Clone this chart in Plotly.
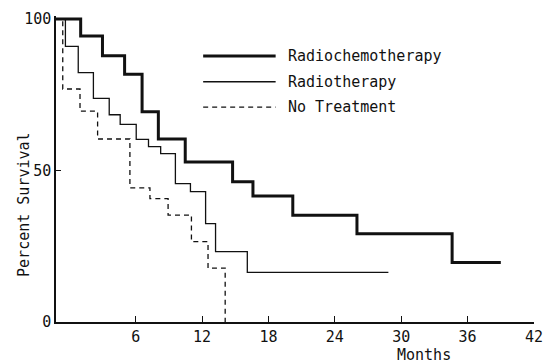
import plotly.graph_objects as go

# ---- data (months, percent survival) ----
chemo_months = [-1.2, 1.03, 3.0, 5.0, 6.58, 8.05, 10.48, 14.76, 16.6, 20.2, 26.0, 34.6, 39.0]
chemo_surv = [100, 94.4, 87.9, 81.8, 69.4, 60.4, 52.8, 46.3, 41.6, 35.2, 29.1, 19.6, 19.6]

radio_months = [-1.2, -0.35, 0.81, 2.18, 3.61, 4.60, 6.05, 7.16, 8.26, 9.59, 10.95, 12.32, 13.22, 16.09, 28.84]
radio_surv = [100, 91.0, 82.3, 73.8, 68.4, 65.2, 60.3, 57.9, 55.6, 45.7, 43.0, 32.5, 23.2, 16.4, 16.4]

none_months = [-1.2, -0.59, 0.97, 2.56, 5.48, 7.29, 8.93, 11.04, 12.54, 14.09]
none_surv = [100, 76.9, 69.6, 60.4, 44.3, 40.7, 35.3, 26.5, 17.8, 0]

x_ticks = [6, 12, 18, 24, 30, 36, 42]
y_ticks = [0, 50, 100]
series_names = ["Radiochemotherapy", "Radiotherapy", "No Treatment"]

FONT = "DejaVu Sans Mono"
INK = "#111111"

fig = go.Figure()
fig.add_trace(go.Scatter(x=none_months, y=none_surv, mode="lines", line_shape="hv",
                         line=dict(color=INK, width=1.3, dash="5px,4px"), name=series_names[2]))
fig.add_trace(go.Scatter(x=radio_months, y=radio_surv, mode="lines", line_shape="hv",
                         line=dict(color=INK, width=1.3), name=series_names[1]))
fig.add_trace(go.Scatter(x=chemo_months, y=chemo_surv, mode="lines", line_shape="hv",
                         line=dict(color=INK, width=3), name=series_names[0]))

# manual legend (long sample lines as in the reference)
leg_x0, leg_x1, leg_tx = 12.1, 18.65, 19.6
leg_y = [87.8, 79.3, 70.9]
leg_styles = [dict(width=3, dash="solid"), dict(width=1.3, dash="solid"), dict(width=1.3, dash="5px,4px")]
shapes = []
annotations = []
for name, yy, st in zip(series_names, leg_y, leg_styles):
    shapes.append(dict(type="line", xref="x", yref="y", x0=leg_x0, x1=leg_x1, y0=yy, y1=yy,
                       line=dict(color=INK, width=st["width"], dash=st["dash"])))
    annotations.append(dict(x=leg_tx, y=yy, xref="x", yref="y", text=name, showarrow=False,
                            xanchor="left", yanchor="middle", font=dict(family=FONT, size=15, color=INK)))

annotations.append(dict(x=0.77, y=-0.107, xref="paper", yref="paper", text="Months", showarrow=False,
                        xanchor="center", yanchor="middle", font=dict(family=FONT, size=15, color=INK)))
annotations.append(dict(x=-0.066, y=0.384, xref="paper", yref="paper", text="Percent Survival",
                        showarrow=False, textangle=-90, xanchor="center", yanchor="middle",
                        font=dict(family=FONT, size=15, color=INK)))

fig.update_layout(
    width=553, height=364,
    margin=dict(l=56, r=10, t=12, b=42),
    paper_bgcolor="white", plot_bgcolor="white",
    showlegend=False,
    shapes=shapes, annotations=annotations,
    font=dict(family=FONT, size=15, color=INK),
)
fig.update_xaxes(range=[-1.2, 42], tickvals=x_ticks, ticks="inside", ticklen=6, tickwidth=1.2,
                 tickcolor=INK, showline=True, linecolor=INK, linewidth=1.5, showgrid=False,
                 zeroline=False, tickfont=dict(family=FONT, size=15, color=INK))
fig.update_yaxes(range=[0, 101], tickvals=y_ticks, ticks="inside", ticklen=5, tickwidth=1.2,
                 tickcolor=INK, showline=True, linecolor=INK, linewidth=1.5, showgrid=False,
                 zeroline=False, tickfont=dict(family=FONT, size=15, color=INK))

fig.write_html("out.html")
